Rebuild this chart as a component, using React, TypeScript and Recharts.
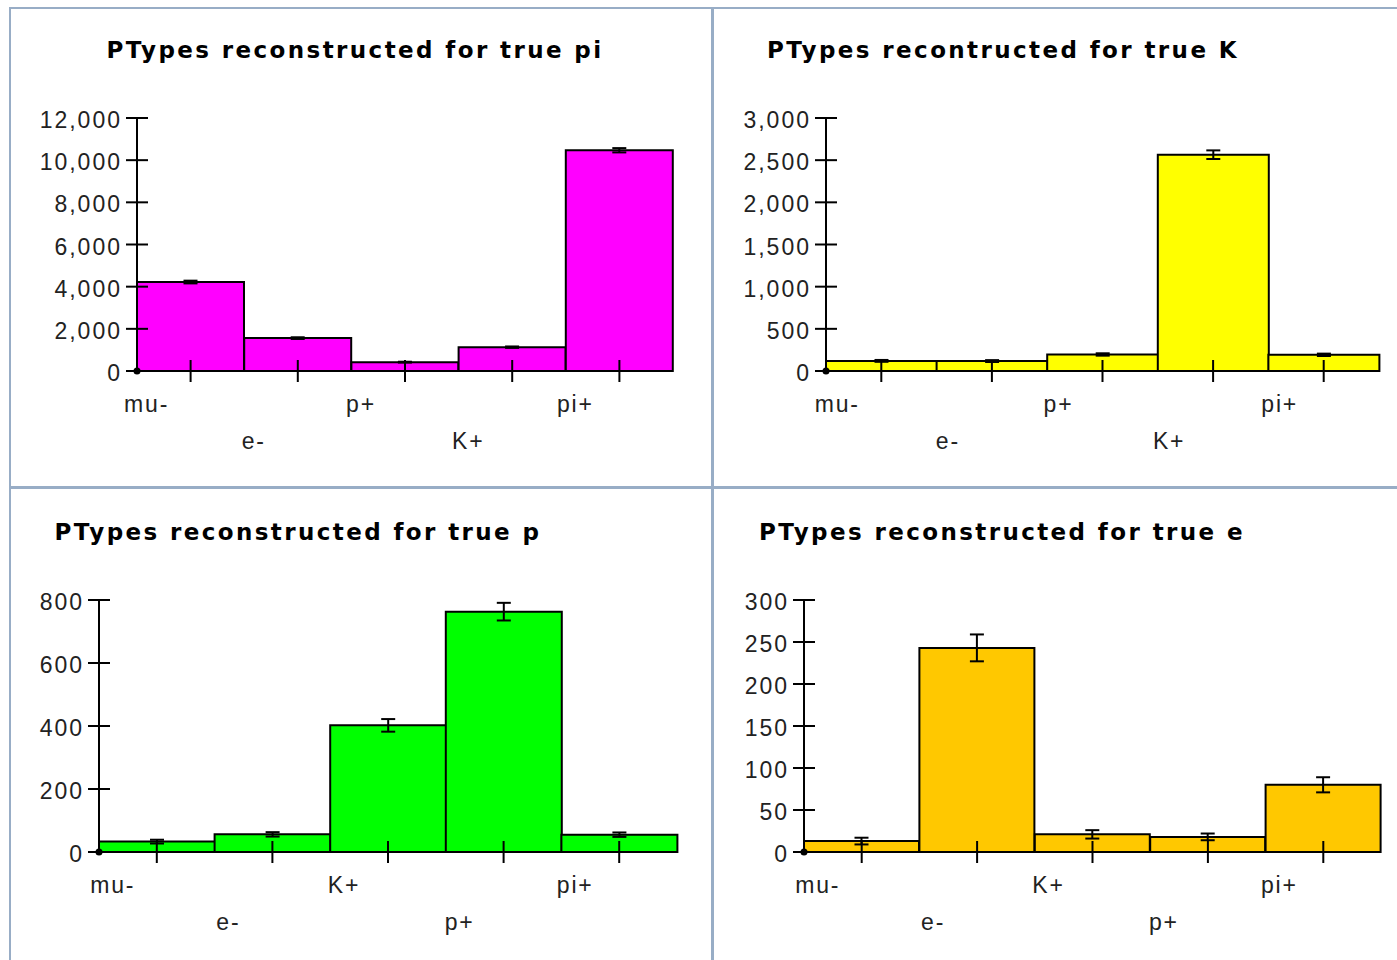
import React from "react";
import { Bar, BarChart, ErrorBar, XAxis, YAxis } from "recharts";

// true pi
const piTypes = ["mu-", "e-", "p+", "K+", "pi+"];
const piCounts = [4220, 1560, 420, 1130, 10470];
const piErrors = [65, 40, 20, 34, 102];
const piTicks = [0, 2000, 4000, 6000, 8000, 10000, 12000];

// true K
const kTypes = ["mu-", "e-", "p+", "K+", "pi+"];
const kCounts = [120, 118, 196, 2565, 192];
const kErrors = [11, 11, 14, 51, 14];
const kTicks = [0, 500, 1000, 1500, 2000, 2500, 3000];

// true p
const pTypes = ["mu-", "e-", "K+", "p+", "pi+"];
const pCounts = [33, 56, 402, 763, 55];
const pErrors = [6, 7, 20, 28, 7];
const pTicks = [0, 200, 400, 600, 800];

// true e
const eTypes = ["mu-", "e-", "K+", "p+", "pi+"];
const eCounts = [13, 243, 21, 18, 80];
const eErrors = [4, 16, 5, 4, 9];
const eTicks = [0, 50, 100, 150, 200, 250, 300];

const BORDER = "#98adc6";
const LABEL_FONT = "'Liberation Sans', Arial, sans-serif";

const toRows = (types: string[], counts: number[], errors: number[]) =>
  types.map((name, i) => ({ name, value: counts[i], err: errors[i] }));

type PanelProps = {
  title: string;
  titleX: number;
  titleY: number;
  left: number;
  top: number;
  width: number;
  height: number;
  margin: { top: number; right: number; bottom: number; left: number };
  types: string[];
  counts: number[];
  errors: number[];
  ticks: number[];
  color: string;
};

const YTick = (props: any) => {
  const { x, y, payload } = props;
  return (
    <g>
      <line x1={x - 11} x2={x + 11} y1={y} y2={y} stroke="#000" strokeWidth={2} />
      {payload.value === 0 && <circle cx={x} cy={y} r={3.5} fill="#000" />}
      <text
        x={x - 15}
        y={y + 10}
        textAnchor="end"
        fontFamily={LABEL_FONT}
        fontSize={23}
        letterSpacing={2}
        fill="#222"
      >
        {payload.value.toLocaleString("en-US")}
      </text>
    </g>
  );
};

const XTick = (props: any) => {
  const { x, y, payload } = props;
  const idx = props.index ?? payload.index ?? 0;
  const row = idx % 2 === 0 ? 41 : 78;
  return (
    <g>
      <line x1={x} x2={x} y1={y - 11} y2={y + 11} stroke="#000" strokeWidth={2} />
      <text
        x={x - 44}
        y={y + row}
        textAnchor="middle"
        fontFamily={LABEL_FONT}
        fontSize={23}
        letterSpacing={1.8}
        fill="#222"
      >
        {payload.value}
      </text>
    </g>
  );
};

const Panel = (p: PanelProps) => {
  const data = toRows(p.types, p.counts, p.errors);
  const max = p.ticks[p.ticks.length - 1];
  return (
    <>
      <div
        style={{
          position: "absolute",
          left: p.titleX,
          top: p.titleY,
          transform: "translateX(-50%)",
          whiteSpace: "nowrap",
          fontFamily: "'DejaVu Sans', sans-serif",
          fontWeight: "bold",
          fontSize: 23,
          letterSpacing: 2.4,
          lineHeight: "26px",
          color: "#000",
        }}
      >
        {p.title}
      </div>
      <div style={{ position: "absolute", left: p.left, top: p.top }}>
        <BarChart
          width={p.width}
          height={p.height}
          data={data}
          margin={{ top: p.margin.top, right: p.margin.right, left: 0, bottom: 0 }}
          barCategoryGap={0}
          barGap={0}
        >
          <XAxis
            dataKey="name"
            interval={0}
            height={p.margin.bottom}
            tickSize={0}
            tickMargin={0}
            tickLine={false}
            axisLine={{ stroke: "#000", strokeWidth: 2 }}
            tick={<XTick />}
          />
          <YAxis
            type="number"
            domain={[0, max]}
            ticks={p.ticks}
            interval={0}
            width={p.margin.left}
            tickSize={0}
            tickMargin={0}
            tickLine={false}
            axisLine={{ stroke: "#000", strokeWidth: 2 }}
            tick={<YTick />}
          />
          <Bar
            dataKey="value"
            fill={p.color}
            stroke="#000"
            strokeWidth={2}
            isAnimationActive={false}
          >
            <ErrorBar
              dataKey="err"
              width={7}
              stroke="#000"
              strokeWidth={2}
              direction="y"
            />
          </Bar>
        </BarChart>
      </div>
    </>
  );
};

export default function App() {
  return (
    <div
      style={{
        position: "fixed",
        left: 0,
        top: 0,
        width: 1397,
        height: 960,
        overflow: "hidden",
        background: "#fff",
      }}
    >
      <div style={{ position: "absolute", left: 9, top: 7, width: 1388, height: 2, background: BORDER }} />
      <div style={{ position: "absolute", left: 9, top: 7, width: 2, height: 953, background: BORDER }} />
      <div style={{ position: "absolute", left: 711, top: 7, width: 3, height: 953, background: BORDER }} />
      <div style={{ position: "absolute", left: 9, top: 486, width: 1388, height: 3, background: BORDER }} />

      <Panel
        title="PTypes reconstructed for true pi"
        titleX={355}
        titleY={37}
        left={11}
        top={9}
        width={700}
        height={477}
        margin={{ top: 109, right: 38, bottom: 115, left: 126 }}
        types={piTypes}
        counts={piCounts}
        errors={piErrors}
        ticks={piTicks}
        color="#ff00ff"
      />
      <Panel
        title="PTypes recontructed for true K"
        titleX={1003}
        titleY={37}
        left={714}
        top={9}
        width={683}
        height={477}
        margin={{ top: 109, right: 18, bottom: 115, left: 112 }}
        types={kTypes}
        counts={kCounts}
        errors={kErrors}
        ticks={kTicks}
        color="#ffff00"
      />
      <Panel
        title="PTypes reconstructed for true p"
        titleX={298}
        titleY={519}
        left={11}
        top={489}
        width={700}
        height={471}
        margin={{ top: 111, right: 34, bottom: 108, left: 88 }}
        types={pTypes}
        counts={pCounts}
        errors={pErrors}
        ticks={pTicks}
        color="#00ff00"
      />
      <Panel
        title="PTypes reconstructed for true e"
        titleX={1002}
        titleY={519}
        left={714}
        top={489}
        width={683}
        height={471}
        margin={{ top: 111, right: 16, bottom: 108, left: 90 }}
        types={eTypes}
        counts={eCounts}
        errors={eErrors}
        ticks={eTicks}
        color="#ffc800"
      />
    </div>
  );
}
